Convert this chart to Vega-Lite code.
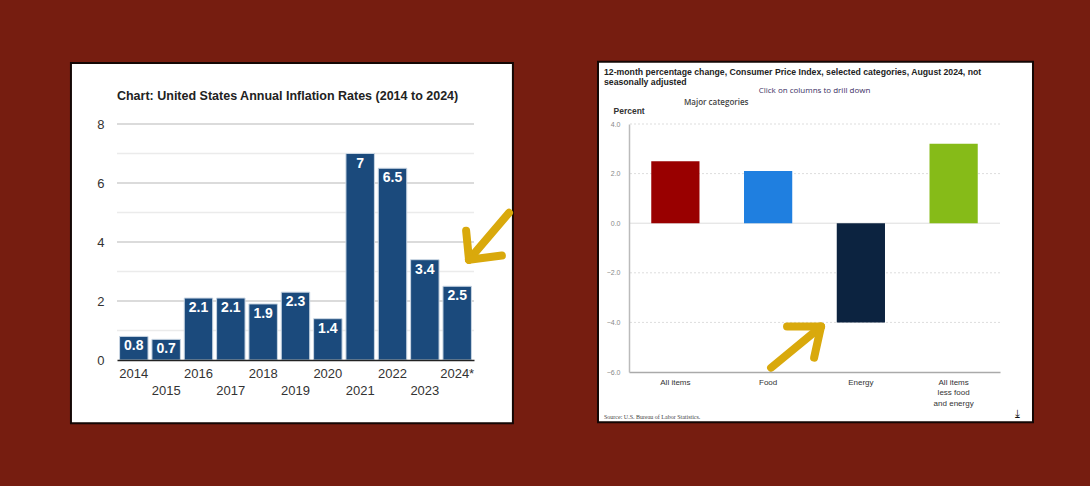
{
  "$schema": "https://vega.github.io/schema/vega-lite/v6.json",
  "background": "#761d10",
  "padding": {"left": 69, "top": 60, "right": 57, "bottom": 63},
  "bounds": "flush",
  "spacing": 155,
  "config": {
    "view": {"stroke": null},
    "font": "Liberation Sans",
    "axis": {"labelFont": "Liberation Sans", "titleFont": "Liberation Sans"}
  },
  "hconcat": [
    {
      "width": 357,
      "height": 236,
      "title": {
        "text": "Chart: United States Annual Inflation Rates (2014 to 2024)",
        "anchor": "start",
        "dx": 47,
        "fontSize": 12.5,
        "fontWeight": "bold",
        "color": "#222222",
        "offset": -40.5
      },
      "data": {
        "values": [
          {"year": "2014", "rate": 0.8},
          {"year": "2015", "rate": 0.7},
          {"year": "2016", "rate": 2.1},
          {"year": "2017", "rate": 2.1},
          {"year": "2018", "rate": 1.9},
          {"year": "2019", "rate": 2.3},
          {"year": "2020", "rate": 1.4},
          {"year": "2021", "rate": 7.0},
          {"year": "2022", "rate": 6.5},
          {"year": "2023", "rate": 3.4},
          {"year": "2024*", "rate": 2.5}
        ]
      },
      "resolve": {"scale": {"x": "independent"}},
      "layer": [
        {
          "data": {"values": [{}]},
          "mark": {"type": "rect", "fill": "white", "stroke": "#140705", "strokeWidth": 2},
          "encoding": {
            "x": {"datum": -0.129, "type": "quantitative", "scale": {"domain": [0, 1]}, "axis": null},
            "x2": {"datum": 1.109},
            "y": {
              "datum": 10.07, "type": "quantitative", "scale": {"domain": [0, 8], "nice": false},
              "axis": {
                "title": null, "values": [0, 2, 4, 6, 8], "zindex": 1, "grid": false,
                "domain": false, "ticks": false, "labelPadding": 13,
                "labelFontSize": 13, "labelColor": "#333333"
              }
            },
            "y2": {"datum": -2.14}
          }
        },
        {
          "data": {"values": [{"g": 1}, {"g": 2}, {"g": 3}, {"g": 4}, {"g": 5}, {"g": 6}, {"g": 7}, {"g": 8}]},
          "mark": {"type": "rule", "strokeWidth": 1.5},
          "encoding": {
            "y": {"field": "g", "type": "quantitative", "scale": {"domain": [0, 8], "nice": false}, "axis": {"title": null, "values": [0, 2, 4, 6, 8], "zindex": 1, "grid": false, "domain": false, "ticks": false, "labelPadding": 13, "labelFontSize": 13, "labelColor": "#333333"}},
            "color": {"condition": {"test": "datum.g % 2 == 0", "value": "#cfcfcf"}, "value": "#ebebeb"}
          }
        },
        {
          "resolve": {"axis": {"x": "independent"}},
          "layer": [
            {
              "mark": {"type": "bar", "fill": "#1b4a7c", "stroke": "#c9d6e3", "strokeWidth": 1},
              "encoding": {
                "x": {
                  "field": "year", "type": "nominal", "sort": null,
                  "scale": {"paddingInner": 0.12, "paddingOuter": 0.08},
                  "axis": {
                    "orient": "bottom", "title": null, "labelAngle": 0, "zindex": 1, "grid": false,
                    "labelExpr": "parseInt(datum.value) % 2 == 0 ? datum.label : ''",
                    "tickSize": 0, "labelPadding": 13, "labelBaseline": "middle",
                    "labelFontSize": 13, "labelColor": "#333333",
                    "domainColor": "#222222", "domainWidth": 1.5
                  }
                },
                "y": {
                  "field": "rate", "type": "quantitative",
                  "scale": {"domain": [0, 8], "nice": false},
                  "axis": {
                    "title": null, "values": [0, 2, 4, 6, 8], "zindex": 1, "grid": false,
                    "domain": false, "ticks": false, "labelPadding": 13,
                    "labelFontSize": 13, "labelColor": "#333333"
                  }
                }
              }
            },
            {
              "mark": {"type": "text", "color": "white", "fontWeight": "bold", "fontSize": 14, "baseline": "top", "dy": 3},
              "encoding": {
                "x": {
                  "field": "year", "type": "nominal", "sort": null,
                  "axis": {
                    "orient": "bottom", "title": null, "labelAngle": 0, "zindex": 1, "grid": false,
                    "labelExpr": "parseInt(datum.value) % 2 == 1 ? datum.label : ''",
                    "tickSize": 0, "domain": false, "labelPadding": 30, "labelBaseline": "middle",
                    "labelFontSize": 13, "labelColor": "#333333"
                  }
                },
                "y": {
                  "field": "rate", "type": "quantitative", "scale": {"domain": [0, 8], "nice": false},
                  "axis": {
                    "title": null, "values": [0, 2, 4, 6, 8], "zindex": 1, "grid": false,
                    "domain": false, "ticks": false, "labelPadding": 13,
                    "labelFontSize": 13, "labelColor": "#333333"
                  }
                },
                "text": {"field": "rate", "type": "quantitative"}
              }
            }
          ]
        },
        {
          "data": {"values": [{}]},
          "mark": {"type": "rule", "color": "#d9a90c", "strokeWidth": 8, "strokeCap": "round"},
          "encoding": {
            "x": {"datum": 1.098, "type": "quantitative", "scale": {"domain": [0, 1]}, "axis": null},
            "x2": {"datum": 0.986},
            "y": {"datum": 4.99, "type": "quantitative", "scale": {"domain": [0, 8], "nice": false}},
            "y2": {"datum": 3.40}
          }
        },
        {
          "data": {"values": [{}]},
          "mark": {"type": "rule", "color": "#d9a90c", "strokeWidth": 8, "strokeCap": "round"},
          "encoding": {
            "x": {"datum": 0.978, "type": "quantitative", "scale": {"domain": [0, 1]}, "axis": null},
            "x2": {"datum": 0.986},
            "y": {"datum": 4.38, "type": "quantitative", "scale": {"domain": [0, 8], "nice": false}},
            "y2": {"datum": 3.40}
          }
        },
        {
          "data": {"values": [{}]},
          "mark": {"type": "rule", "color": "#d9a90c", "strokeWidth": 8, "strokeCap": "round"},
          "encoding": {
            "x": {"datum": 1.078, "type": "quantitative", "scale": {"domain": [0, 1]}, "axis": null},
            "x2": {"datum": 0.986},
            "y": {"datum": 3.54, "type": "quantitative", "scale": {"domain": [0, 8], "nice": false}},
            "y2": {"datum": 3.40}
          }
        }
      ]
    },
    {
      "width": 371,
      "height": 248,
      "title": {
        "text": ["12-month percentage change, Consumer Price Index, selected categories, August 2024, not", "seasonally adjusted"],
        "anchor": "start",
        "dx": 7,
        "fontSize": 8.7,
        "fontWeight": "bold",
        "color": "#222222",
        "lineHeight": 10,
        "offset": -25.5
      },
      "data": {
        "values": [
          {"category": "All items", "pct": 2.5},
          {"category": "Food", "pct": 2.1},
          {"category": "Energy", "pct": -4.0},
          {"category": "All items less food and energy", "pct": 3.2}
        ]
      },
      "resolve": {"scale": {"x": "independent"}},
      "layer": [
        {
          "data": {"values": [{}]},
          "mark": {"type": "rect", "fill": "white", "stroke": "#140705", "strokeWidth": 2},
          "encoding": {
            "x": {"datum": -0.0836, "type": "quantitative", "scale": {"domain": [0, 1]}, "axis": null},
            "x2": {"datum": 1.0889},
            "y": {
              "datum": 6.51, "type": "quantitative", "scale": {"domain": [-6, 4], "nice": false},
              "axis": {
                "title": "Percent", "titleAngle": 0, "titleAlign": "left", "titleBaseline": "middle",
                "titleX": -16, "titleY": -14, "titleFontSize": 8.5, "titleFontWeight": "bold", "titleColor": "#333333",
                "values": [-6, -4, -2, 0, 2, 4], "format": ".1f", "zindex": 1, "grid": false,
                "labelFontSize": 7, "labelColor": "#888888", "tickSize": 0, "labelPadding": 9,
                "domainColor": "#bbbbbb", "domainWidth": 1.5
              }
            },
            "y2": {"datum": -8.03}
          }
        },
        {
          "data": {"values": [{"g": -4}, {"g": -2}, {"g": 0}, {"g": 2}, {"g": 4}]},
          "mark": {"type": "rule", "strokeWidth": 1, "color": "#dddddd"},
          "encoding": {
            "y": {
              "field": "g", "type": "quantitative", "scale": {"domain": [-6, 4], "nice": false},
              "axis": {
                "title": "Percent", "titleAngle": 0, "titleAlign": "left", "titleBaseline": "middle",
                "titleX": -16, "titleY": -14, "titleFontSize": 8.5, "titleFontWeight": "bold", "titleColor": "#333333",
                "values": [-6, -4, -2, 0, 2, 4], "format": ".1f", "zindex": 1, "grid": false,
                "labelFontSize": 7, "labelColor": "#888888", "tickSize": 0, "labelPadding": 9,
                "domainColor": "#bbbbbb", "domainWidth": 1.5
              }
            },
            "strokeDash": {"condition": {"test": "datum.g == 0", "value": [1, 0]}, "value": [2, 2]}
          }
        },
        {
          "mark": {"type": "bar"},
          "encoding": {
            "x": {
              "field": "category", "type": "nominal", "sort": null,
              "scale": {"paddingInner": 0.48, "paddingOuter": 0.24},
              "axis": {
                "title": null, "labelAngle": 0, "zindex": 1, "grid": false,
                "labelExpr": "datum.value == 'All items less food and energy' ? ['All items', 'less food', 'and energy'] : datum.label",
                "labelFontSize": 8, "labelColor": "#333333", "labelBaseline": "top",
                "labelPadding": 6, "labelLineHeight": 10.5, "tickSize": 0,
                "domainColor": "#aaaaaa", "domainWidth": 1.5
              }
            },
            "y": {
              "field": "pct", "type": "quantitative",
              "scale": {"domain": [-6, 4], "nice": false},
              "axis": {
                "title": "Percent", "titleAngle": 0, "titleAlign": "left", "titleBaseline": "middle",
                "titleX": -16, "titleY": -14, "titleFontSize": 8.5, "titleFontWeight": "bold", "titleColor": "#333333",
                "values": [-6, -4, -2, 0, 2, 4], "format": ".1f", "zindex": 1, "grid": false,
                "labelFontSize": 7, "labelColor": "#888888", "tickSize": 0, "labelPadding": 9,
                "domainColor": "#bbbbbb", "domainWidth": 1.5
              }
            },
            "color": {
              "field": "category", "type": "nominal",
              "scale": {"domain": ["All items", "Food", "Energy", "All items less food and energy"], "range": ["#990000", "#1f7fe0", "#0c2340", "#86bb18"]},
              "legend": null
            }
          }
        },
        {
          "data": {"values": [{}]},
          "mark": {"type": "text", "text": "Click on columns to drill down", "font": "Open Sans", "fontSize": 8, "color": "#3b2f63", "align": "center", "baseline": "middle"},
          "encoding": {
            "x": {"datum": 0.5, "type": "quantitative", "scale": {"domain": [0, 1]}, "axis": null},
            "y": {"datum": 5.33, "type": "quantitative", "scale": {"domain": [-6, 4], "nice": false}}
          }
        },
        {
          "data": {"values": [{}]},
          "mark": {"type": "text", "text": "Major categories", "font": "Open Sans", "fontSize": 8, "fontWeight": 600, "color": "#444444", "align": "left", "baseline": "middle"},
          "encoding": {
            "x": {"datum": 0.148, "type": "quantitative", "scale": {"domain": [0, 1]}, "axis": null},
            "y": {"datum": 4.845, "type": "quantitative", "scale": {"domain": [-6, 4], "nice": false}}
          }
        },
        {
          "data": {"values": [{}]},
          "mark": {"type": "text", "text": "Source: U.S. Bureau of Labor Statistics.", "font": "Liberation Serif", "fontSize": 6, "color": "#444444", "align": "left", "baseline": "middle"},
          "encoding": {
            "x": {"datum": -0.0674, "type": "quantitative", "scale": {"domain": [0, 1]}, "axis": null},
            "y": {"datum": -7.8, "type": "quantitative", "scale": {"domain": [-6, 4], "nice": false}}
          }
        },
        {
          "data": {"values": [{}]},
          "mark": {"type": "text", "text": "⤓", "font": "DejaVu Sans", "fontSize": 11, "color": "#111111", "align": "center", "baseline": "middle"},
          "encoding": {
            "x": {"datum": 1.0477, "type": "quantitative", "scale": {"domain": [0, 1]}, "axis": null},
            "y": {"datum": -7.7, "type": "quantitative", "scale": {"domain": [-6, 4], "nice": false}}
          }
        },
        {
          "data": {"values": [{}]},
          "mark": {"type": "rule", "color": "#d9a90c", "strokeWidth": 8, "strokeCap": "round"},
          "encoding": {
            "x": {"datum": 0.383, "type": "quantitative", "scale": {"domain": [0, 1]}, "axis": null},
            "x2": {"datum": 0.5175},
            "y": {"datum": -5.83, "type": "quantitative", "scale": {"domain": [-6, 4], "nice": false}},
            "y2": {"datum": -4.17}
          }
        },
        {
          "data": {"values": [{}]},
          "mark": {"type": "rule", "color": "#d9a90c", "strokeWidth": 8, "strokeCap": "round"},
          "encoding": {
            "x": {"datum": 0.426, "type": "quantitative", "scale": {"domain": [0, 1]}, "axis": null},
            "x2": {"datum": 0.5175},
            "y": {"datum": -4.17, "type": "quantitative", "scale": {"domain": [-6, 4], "nice": false}},
            "y2": {"datum": -4.17}
          }
        },
        {
          "data": {"values": [{}]},
          "mark": {"type": "rule", "color": "#d9a90c", "strokeWidth": 8, "strokeCap": "round"},
          "encoding": {
            "x": {"datum": 0.499, "type": "quantitative", "scale": {"domain": [0, 1]}, "axis": null},
            "x2": {"datum": 0.5175},
            "y": {"datum": -5.42, "type": "quantitative", "scale": {"domain": [-6, 4], "nice": false}},
            "y2": {"datum": -4.17}
          }
        }
      ]
    }
  ]
}
